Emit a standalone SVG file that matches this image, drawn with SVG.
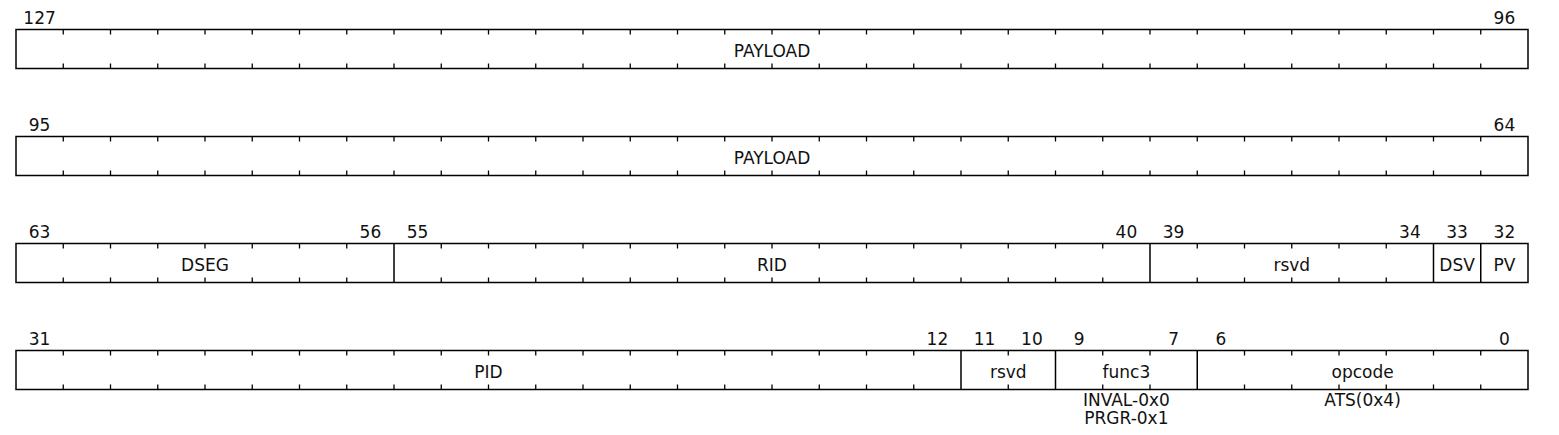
<svg xmlns="http://www.w3.org/2000/svg" xmlns:xlink="http://www.w3.org/1999/xlink" width="1559" height="435" viewBox="0 0 1559 435">
<style>
text{font-family:"DejaVu Sans","Liberation Sans",sans-serif;font-size:17px;fill:#111;text-anchor:middle}
.box{fill:#fff;stroke:#000;stroke-width:1.5}
.fl{stroke:#000;stroke-width:1.5}
.tk line{stroke:#000;stroke-width:1.3}
</style>
<defs>
<g id="tk" class="tk"><line x1="0" y1="0" x2="0" y2="5"/><line x1="0" y1="34" x2="0" y2="39"/></g>
</defs>
<g id="row1" transform="translate(0,29.5)">
<rect class="box" x="16" y="0" width="1512" height="39"/>
<use xlink:href="#tk" x="63.25"/><use xlink:href="#tk" x="110.5"/><use xlink:href="#tk" x="157.75"/><use xlink:href="#tk" x="205"/><use xlink:href="#tk" x="252.25"/><use xlink:href="#tk" x="299.5"/><use xlink:href="#tk" x="346.75"/><use xlink:href="#tk" x="394"/><use xlink:href="#tk" x="441.25"/><use xlink:href="#tk" x="488.5"/><use xlink:href="#tk" x="535.75"/><use xlink:href="#tk" x="583"/><use xlink:href="#tk" x="630.25"/><use xlink:href="#tk" x="677.5"/><use xlink:href="#tk" x="724.75"/><use xlink:href="#tk" x="772"/><use xlink:href="#tk" x="819.25"/><use xlink:href="#tk" x="866.5"/><use xlink:href="#tk" x="913.75"/><use xlink:href="#tk" x="961"/><use xlink:href="#tk" x="1008.25"/><use xlink:href="#tk" x="1055.5"/><use xlink:href="#tk" x="1102.75"/><use xlink:href="#tk" x="1150"/><use xlink:href="#tk" x="1197.25"/><use xlink:href="#tk" x="1244.5"/><use xlink:href="#tk" x="1291.75"/><use xlink:href="#tk" x="1339"/><use xlink:href="#tk" x="1386.25"/><use xlink:href="#tk" x="1433.5"/><use xlink:href="#tk" x="1480.75"/>
<text x="39.6" y="-5.5">127</text><text x="1504.4" y="-5.5">96</text>
<text x="772" y="27">PAYLOAD</text>
</g>
<g id="row2" transform="translate(0,136.5)">
<rect class="box" x="16" y="0" width="1512" height="39"/>
<use xlink:href="#tk" x="63.25"/><use xlink:href="#tk" x="110.5"/><use xlink:href="#tk" x="157.75"/><use xlink:href="#tk" x="205"/><use xlink:href="#tk" x="252.25"/><use xlink:href="#tk" x="299.5"/><use xlink:href="#tk" x="346.75"/><use xlink:href="#tk" x="394"/><use xlink:href="#tk" x="441.25"/><use xlink:href="#tk" x="488.5"/><use xlink:href="#tk" x="535.75"/><use xlink:href="#tk" x="583"/><use xlink:href="#tk" x="630.25"/><use xlink:href="#tk" x="677.5"/><use xlink:href="#tk" x="724.75"/><use xlink:href="#tk" x="772"/><use xlink:href="#tk" x="819.25"/><use xlink:href="#tk" x="866.5"/><use xlink:href="#tk" x="913.75"/><use xlink:href="#tk" x="961"/><use xlink:href="#tk" x="1008.25"/><use xlink:href="#tk" x="1055.5"/><use xlink:href="#tk" x="1102.75"/><use xlink:href="#tk" x="1150"/><use xlink:href="#tk" x="1197.25"/><use xlink:href="#tk" x="1244.5"/><use xlink:href="#tk" x="1291.75"/><use xlink:href="#tk" x="1339"/><use xlink:href="#tk" x="1386.25"/><use xlink:href="#tk" x="1433.5"/><use xlink:href="#tk" x="1480.75"/>
<text x="39.6" y="-5.5">95</text><text x="1504.4" y="-5.5">64</text>
<text x="772" y="27">PAYLOAD</text>
</g>
<g id="row3" transform="translate(0,243.5)">
<rect class="box" x="16" y="0" width="1512" height="39"/>
<line class="fl" x1="394" y1="0" x2="394" y2="39"/><line class="fl" x1="1150" y1="0" x2="1150" y2="39"/><line class="fl" x1="1433.5" y1="0" x2="1433.5" y2="39"/><line class="fl" x1="1480.75" y1="0" x2="1480.75" y2="39"/>
<use xlink:href="#tk" x="63.25"/><use xlink:href="#tk" x="110.5"/><use xlink:href="#tk" x="157.75"/><use xlink:href="#tk" x="205"/><use xlink:href="#tk" x="252.25"/><use xlink:href="#tk" x="299.5"/><use xlink:href="#tk" x="346.75"/><use xlink:href="#tk" x="441.25"/><use xlink:href="#tk" x="488.5"/><use xlink:href="#tk" x="535.75"/><use xlink:href="#tk" x="583"/><use xlink:href="#tk" x="630.25"/><use xlink:href="#tk" x="677.5"/><use xlink:href="#tk" x="724.75"/><use xlink:href="#tk" x="772"/><use xlink:href="#tk" x="819.25"/><use xlink:href="#tk" x="866.5"/><use xlink:href="#tk" x="913.75"/><use xlink:href="#tk" x="961"/><use xlink:href="#tk" x="1008.25"/><use xlink:href="#tk" x="1055.5"/><use xlink:href="#tk" x="1102.75"/><use xlink:href="#tk" x="1197.25"/><use xlink:href="#tk" x="1244.5"/><use xlink:href="#tk" x="1291.75"/><use xlink:href="#tk" x="1339"/><use xlink:href="#tk" x="1386.25"/>
<text x="39.6" y="-5.5">63</text><text x="370.4" y="-5.5">56</text><text x="417.6" y="-5.5">55</text><text x="1126.4" y="-5.5">40</text><text x="1173.6" y="-5.5">39</text><text x="1409.9" y="-5.5">34</text><text x="1457.1" y="-5.5">33</text><text x="1504.4" y="-5.5">32</text>
<text x="205" y="27">DSEG</text><text x="772" y="27">RID</text><text x="1291.75" y="27">rsvd</text><text x="1457.1" y="27">DSV</text><text x="1504.4" y="27">PV</text>
</g>
<g id="row4" transform="translate(0,350.5)">
<rect class="box" x="16" y="0" width="1512" height="39"/>
<line class="fl" x1="961" y1="0" x2="961" y2="39"/><line class="fl" x1="1055.5" y1="0" x2="1055.5" y2="39"/><line class="fl" x1="1197.25" y1="0" x2="1197.25" y2="39"/>
<use xlink:href="#tk" x="63.25"/><use xlink:href="#tk" x="110.5"/><use xlink:href="#tk" x="157.75"/><use xlink:href="#tk" x="205"/><use xlink:href="#tk" x="252.25"/><use xlink:href="#tk" x="299.5"/><use xlink:href="#tk" x="346.75"/><use xlink:href="#tk" x="394"/><use xlink:href="#tk" x="441.25"/><use xlink:href="#tk" x="488.5"/><use xlink:href="#tk" x="535.75"/><use xlink:href="#tk" x="583"/><use xlink:href="#tk" x="630.25"/><use xlink:href="#tk" x="677.5"/><use xlink:href="#tk" x="724.75"/><use xlink:href="#tk" x="772"/><use xlink:href="#tk" x="819.25"/><use xlink:href="#tk" x="866.5"/><use xlink:href="#tk" x="913.75"/><use xlink:href="#tk" x="1008.25"/><use xlink:href="#tk" x="1102.75"/><use xlink:href="#tk" x="1150"/><use xlink:href="#tk" x="1244.5"/><use xlink:href="#tk" x="1291.75"/><use xlink:href="#tk" x="1339"/><use xlink:href="#tk" x="1386.25"/><use xlink:href="#tk" x="1433.5"/><use xlink:href="#tk" x="1480.75"/>
<text x="39.6" y="-5.5">31</text><text x="937.4" y="-5.5">12</text><text x="984.6" y="-5.5">11</text><text x="1031.9" y="-5.5">10</text><text x="1079.1" y="-5.5">9</text><text x="1173.6" y="-5.5">7</text><text x="1220.9" y="-5.5">6</text><text x="1504.4" y="-5.5">0</text>
<text x="488.5" y="27">PID</text><text x="1008.25" y="27">rsvd</text><text x="1126.4" y="27">func3</text><text x="1362.6" y="27">opcode</text>
<text x="1126.4" y="55.5">INVAL-0x0</text><text x="1126.4" y="73.5">PRGR-0x1</text><text x="1362.6" y="55.5">ATS(0x4)</text>
</g>
</svg>
